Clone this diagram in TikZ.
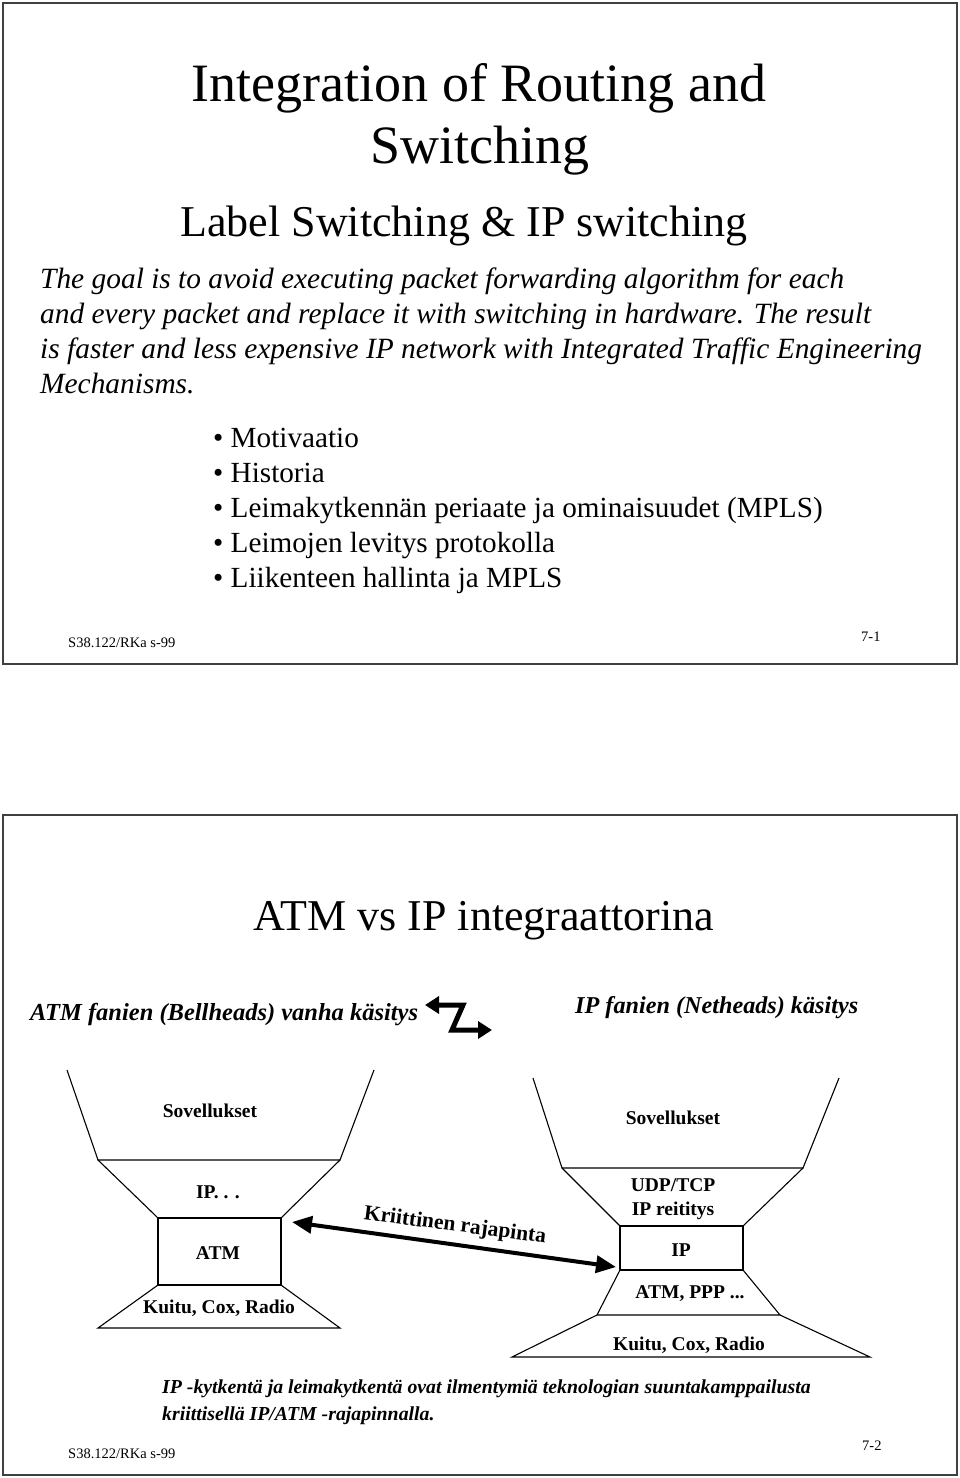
\documentclass[tikz,border=0pt]{standalone}
\usepackage{fontspec}
\setmainfont{Liberation Serif}
\usetikzlibrary{arrows.meta}

\tikzset{
  slide/.style={draw=black!75, line width=2.5pt},
  layer/.style={draw, line width=1.1pt, line join=miter},
  txt/.style={inner sep=0pt, anchor=base west},
  ctxt/.style={inner sep=0pt, anchor=base},
  tag/.style={inner sep=0pt, font=\fontsize{19.5}{24}\selectfont\bfseries},
  fat/.style={line width=4pt, {Triangle[length=20pt,width=17pt]}-{Triangle[length=20pt,width=17pt]}},
  zig/.style={line width=5pt, line join=miter, {Triangle[length=14pt,width=17pt]}-{Triangle[length=14pt,width=17pt]}},
}

\newcommand{\paraf}{\fontsize{29.4}{29.4}\selectfont\itshape}
\newcommand{\itemf}{\fontsize{29.2}{29.2}\selectfont}
\newcommand{\footf}{\fontsize{14.5}{15}\selectfont}

\begin{document}
\begin{tikzpicture}[x=1pt,y=-1pt]
  \useasboundingbox (0,0) rectangle (960,1478);

  % first slide
  \draw[slide] (3,3) rectangle (957,664);
  \node[ctxt, font=\fontsize{54}{54}\selectfont] (title1) at (479,101) {Integration of Routing and};
  \node[ctxt, font=\fontsize{54}{54}\selectfont] (title2) at (480,163) {Switching};
  \node[ctxt, font=\fontsize{44}{44}\selectfont] (sub1) at (464,236) {Label Switching \& IP switching};

  \node[txt, font=\paraf] (goal1) at (40,288) {The goal is to avoid executing packet forwarding algorithm for each};
  \node[txt, font=\paraf] (goal2) at (40,323) {and every packet and replace it with switching in hardware. The result};
  \node[txt, font=\paraf] (goal3) at (40,358) {is faster and less expensive IP network with Integrated Traffic Engineering};
  \node[txt, font=\paraf] (goal4) at (40,393) {Mechanisms.};

  \node[txt, font=\itemf] (item1) at (213,447) {• Motivaatio};
  \node[txt, font=\itemf] (item2) at (213,482) {• Historia};
  \node[txt, font=\itemf] (item3) at (213,517) {• Leimakytkennän periaate ja ominaisuudet (MPLS)};
  \node[txt, font=\itemf] (item4) at (213,552) {• Leimojen levitys protokolla};
  \node[txt, font=\itemf] (item5) at (213,587) {• Liikenteen hallinta ja MPLS};

  \node[txt, font=\footf] (foot1) at (68,647) {S38.122/RKa s-99};
  \node[txt, font=\footf] (page1) at (861,641) {7-1};

  % second slide
  \draw[slide] (3,815) rectangle (957,1475);
  \node[ctxt, font=\fontsize{44}{44}\selectfont] (title3) at (484,930) {ATM vs IP integraattorina};

  \node[txt, font=\fontsize{24.5}{24.5}\selectfont\bfseries\itshape] (bell) at (30,1020) {ATM fanien (Bellheads) vanha käsitys};
  \node[txt, font=\fontsize{24.2}{24.2}\selectfont\bfseries\itshape] (net) at (575,1013) {IP fanien (Netheads) käsitys};

  \coordinate (zA) at (425,1005);
  \coordinate (zB) at (463,1005);
  \coordinate (zC) at (452,1030);
  \coordinate (zD) at (492,1030);
  \draw[zig] (zA) -- (zB) -- (zC) -- (zD);

  % ATM funnel
  \coordinate (aTL) at (67,1070);  \coordinate (aTR) at (374,1070);
  \coordinate (aML) at (98,1160);  \coordinate (aMR) at (340,1160);
  \coordinate (aBL) at (158,1218); \coordinate (aBR) at (281,1218);
  \coordinate (aCL) at (158,1285); \coordinate (aCR) at (281,1285);
  \coordinate (aFL) at (98,1328);  \coordinate (aFR) at (340,1328);
  \draw[layer] (aTL) -- (aML) -- (aMR) -- (aTR);
  \draw[layer] (aML) -- (aBL) -- (aBR) -- (aMR);
  \draw[layer] (aBL) rectangle (aCR);
  \draw[layer] (aCL) -- (aFL) -- (aFR) -- (aCR);
  \node[tag] (aApp) at (210,1111) {Sovellukset};
  \node[tag] (aIP) at (218,1192) {IP. . .};
  \node[tag] (aATM) at (218,1253) {ATM};
  \node[tag] (aPhy) at (219,1308) {Kuitu, Cox, Radio};

  % IP funnel
  \coordinate (bTL) at (533,1078); \coordinate (bTR) at (839,1078);
  \coordinate (bML) at (562,1168); \coordinate (bMR) at (803,1168);
  \coordinate (bBL) at (620,1226); \coordinate (bBR) at (743,1226);
  \coordinate (bCL) at (620,1270); \coordinate (bCR) at (743,1270);
  \coordinate (bDL) at (597,1315); \coordinate (bDR) at (780,1315);
  \coordinate (bFL) at (512,1357); \coordinate (bFR) at (870,1357);
  \draw[layer] (bTL) -- (bML) -- (bMR) -- (bTR);
  \draw[layer] (bML) -- (bBL) -- (bBR) -- (bMR);
  \draw[layer] (bBL) rectangle (bCR);
  \draw[layer] (bCL) -- (bDL) -- (bDR) -- (bCR);
  \draw[layer] (bDL) -- (bFL) -- (bFR) -- (bDR);
  \node[tag] (bApp) at (673,1118) {Sovellukset};
  \node[tag, align=center] (bTcp) at (673,1199) {UDP/TCP\\IP reititys};
  \node[tag] (bIP) at (681,1250) {IP};
  \node[tag] (bLink) at (690,1294) {ATM, PPP ...};
  \node[tag] (bPhy) at (689,1345) {Kuitu, Cox, Radio};

  % critical interface
  \coordinate (kL) at (292,1222);
  \coordinate (kR) at (616,1267);
  \draw[fat] (kL) -- (kR);
  \node[inner sep=0pt, rotate=-7.5, font=\fontsize{21.5}{22}\selectfont\bfseries] (krit) at (455,1226) {Kriittinen rajapinta};

  \node[txt, font=\fontsize{19.8}{19.8}\selectfont\bfseries\itshape] (note1) at (162,1393) {IP -kytkentä ja leimakytkentä ovat ilmentymiä teknologian suuntakamppailusta};
  \node[txt, font=\fontsize{19.8}{19.8}\selectfont\bfseries\itshape] (note2) at (162,1420) {kriittisellä IP/ATM -rajapinnalla.};

  \node[txt, font=\footf] (foot2) at (68,1458) {S38.122/RKa s-99};
  \node[txt, font=\footf] (page2) at (862,1450) {7-2};
\end{tikzpicture}
\end{document}
